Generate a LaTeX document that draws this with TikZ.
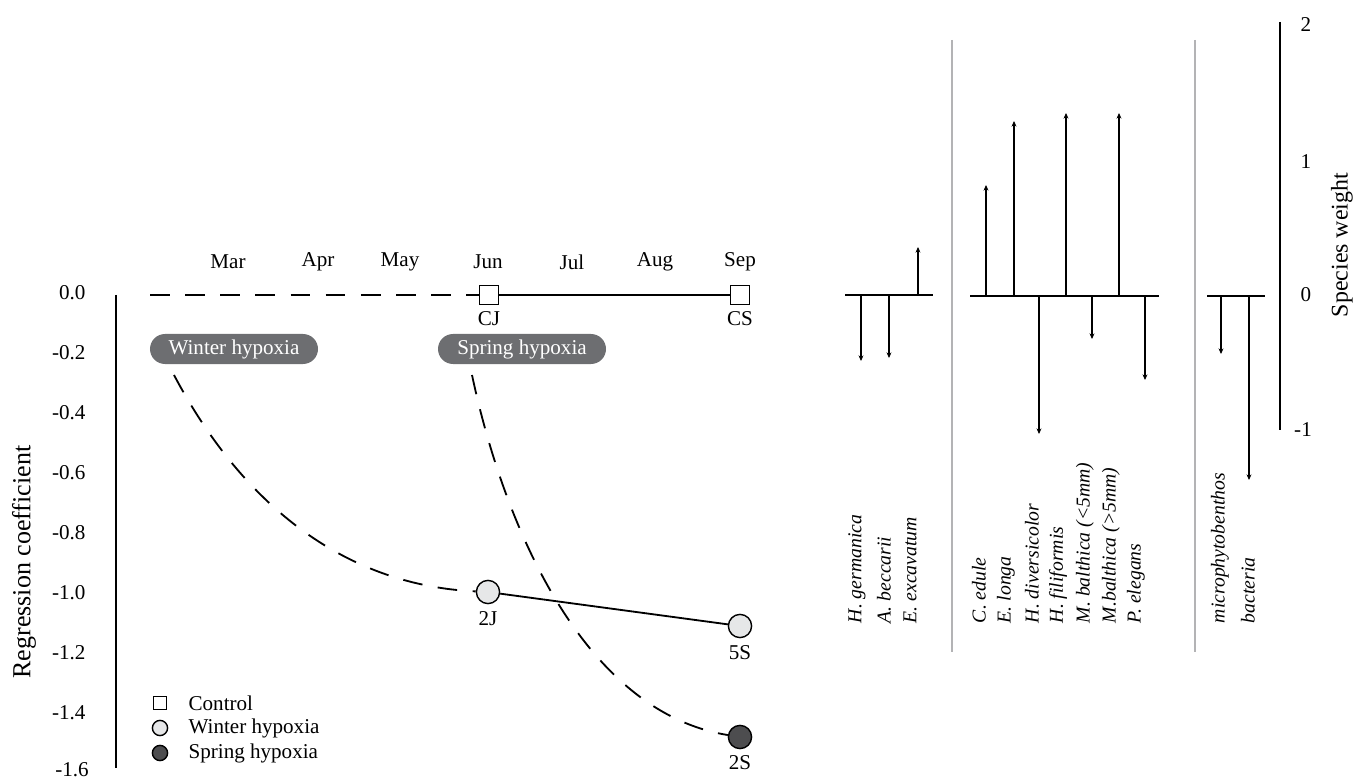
\documentclass[tikz,border=0pt]{standalone}
\usepackage{fontspec}
\setmainfont{Liberation Serif}
\usepackage{tikz}
\usetikzlibrary{arrows.meta}
\usetikzlibrary{shapes,positioning}
\definecolor{pillgray}{HTML}{6D6E71}
\definecolor{wintergray}{HTML}{E6E7E8}
\definecolor{springgray}{HTML}{4D4D4F}
\definecolor{sepgray}{HTML}{B3B3B5}

\tikzset{
  dashline/.style={dash pattern=on 14pt off 11pt},
  ctrlsq/.style={rectangle, draw=black, fill=white, line width=1pt, minimum size=4.75mm, inner sep=0pt},
  wcirc/.style={circle, draw=black, fill=wintergray, line width=1pt, minimum size=5.8mm, inner sep=0pt},
  scirc/.style={circle, draw=black, fill=springgray, line width=1pt, minimum size=5.8mm, inner sep=0pt},
  pill/.style={rounded rectangle, fill=pillgray, text=white, minimum width=42mm, minimum height=7.5mm, inner sep=0pt},
  spec/.style={rotate=90, anchor=west, inner sep=0pt, font=\fontsize{14}{16}\selectfont\itshape},
  bar/.style={-{Stealth[slant=0, length=4pt, width=3.5pt]}, line width=1.3pt},
  sepline/.style={draw=sepgray, line width=1.3pt}
}

\begin{document}
\begin{tikzpicture}[x=0.25mm, y=-0.25mm, line width=1.3pt, font=\fontsize{15}{17}\selectfont]
        \useasboundingbox (0,0) rectangle (1353,781);

        % Regression axis
        \coordinate (ax_top) at (116,295);
        \coordinate (ax_bot) at (116,768);
        \draw (ax_top) -- (ax_bot);
        \node[rotate=90, font=\fontsize{18.5}{20}\selectfont] (ax_title) at (24,562) {Regression coefficient};

        \node[anchor=east] (t0)  at (91,293) {0.0};
        \node[anchor=east] (t2)  at (91,353) {-0.2};
        \node[anchor=east] (t4)  at (91,413) {-0.4};
        \node[anchor=east] (t6)  at (91,473) {-0.6};
        \node[anchor=east] (t8)  at (91,533) {-0.8};
        \node[anchor=east] (t10) at (91,593) {-1.0};
        \node[anchor=east] (t12) at (91,653) {-1.2};
        \node[anchor=east] (t14) at (91,713) {-1.4};
        \node[anchor=east, inner sep=1pt] (t16) at (91,770) {-1.6};

        % Months
        \node (mar) at (228,262) {Mar};
        \node (apr) at (318,262) {Apr};
        \node (may) at (400,262) {May};
        \node (jun) at (488,262) {Jun};
        \node (jul) at (572,262) {Jul};
        \node (aug) at (655,262) {Aug};
        \node (sep) at (740,262) {Sep};

        % Control
        \coordinate (ctrl0) at (150,295);
        \node[ctrlsq] (CJ) at (489,295) {};
        \node[ctrlsq] (CS) at (740,295) {};
        \draw[dashline] (ctrl0) -- (CJ);
        \draw (CJ) -- (CS);
        \node (CJ_lab) at (489,319) {CJ};
        \node (CS_lab) at (740,319) {CS};

        % Hypoxia labels
        \node[pill] (winter) at (234,349) {Winter hypoxia};
        \node[pill] (spring) at (522,349) {Spring hypoxia};

        % Winter hypoxia
        \node[wcirc] (2J) at (488,592) {};
        \node[wcirc] (5S) at (740,626) {};
        \coordinate (w0) at (174,375);
        \draw[dashline] (w0) .. controls (240,500) and (340,585) .. (2J);
        \draw (2J) -- (5S);
        \node (2J_lab) at (488,619) {2J};
        \node (5S_lab) at (740,653) {5S};

        % Spring hypoxia
        \node[scirc] (2S) at (740,737) {};
        \coordinate (s0) at (472,375);
        \draw[dashline] (s0) .. controls (505,530) and (585,712) .. (2S);
        \node (2S_lab) at (740,763) {2S};

        % Legend
        \node[ctrlsq, minimum size=3.3mm] (lg_c) at (160,703) {};
        \node[wcirc, minimum size=3.8mm] (lg_w) at (160,728) {};
        \node[scirc, minimum size=3.8mm] (lg_s) at (160,753) {};
        \node[anchor=west] (lg_c_t) at (183,703) {Control};
        \node[anchor=west] (lg_w_t) at (183,728) {Winter hypoxia};
        \node[anchor=west] (lg_s_t) at (183,753) {Spring hypoxia};

        % Separators
        \coordinate (sep1a) at (952,40);
        \coordinate (sep1b) at (952,652);
        \coordinate (sep2a) at (1195,40);
        \coordinate (sep2b) at (1195,652);
        \draw[sepline] (sep1a) -- (sep1b);
        \draw[sepline] (sep2a) -- (sep2b);

        % Species weight axis
        \coordinate (sw_top) at (1280,22);
        \coordinate (sw_bot) at (1280,430);
        \draw (sw_top) -- (sw_bot);
        \node (sw2)  at (1306,25)  {2};
        \node (sw1)  at (1306,162) {1};
        \node (sw0)  at (1306,295) {0};
        \node (swm1) at (1303,430) {-1};
        \node[rotate=90, font=\fontsize{17}{19}\selectfont] (sw_title) at (1342,245) {Species weight};

        % Foraminifera
        \coordinate (g1a) at (845,295);
        \coordinate (g1b) at (933,295);
        \draw (g1a) -- (g1b);
        \coordinate (hg0) at (861,295);  \coordinate (hg1) at (861,361);
        \coordinate (ab0) at (889,295);  \coordinate (ab1) at (889,358);
        \coordinate (ee0) at (918,295);  \coordinate (ee1) at (918,247);
        \draw[bar] (hg0) -- (hg1);
        \draw[bar] (ab0) -- (ab1);
        \draw[bar] (ee0) -- (ee1);

        % Macrofauna
        \coordinate (g2a) at (970,296);
        \coordinate (g2b) at (1159,296);
        \draw (g2a) -- (g2b);
        \coordinate (ce0) at (986,296);   \coordinate (ce1) at (986,185);
        \coordinate (el0) at (1014,296);  \coordinate (el1) at (1014,121);
        \coordinate (hd0) at (1039,296);  \coordinate (hd1) at (1039,434);
        \coordinate (hf0) at (1066,296);  \coordinate (hf1) at (1066,113);
        \coordinate (ms0) at (1092,296);  \coordinate (ms1) at (1092,339);
        \coordinate (ml0) at (1119,296);  \coordinate (ml1) at (1119,113);
        \coordinate (pe0) at (1145,296);  \coordinate (pe1) at (1145,380);
        \draw[bar] (ce0) -- (ce1);
        \draw[bar] (el0) -- (el1);
        \draw[bar] (hd0) -- (hd1);
        \draw[bar] (hf0) -- (hf1);
        \draw[bar] (ms0) -- (ms1);
        \draw[bar] (ml0) -- (ml1);
        \draw[bar] (pe0) -- (pe1);

        % Microbes
        \coordinate (g3a) at (1207,296);
        \coordinate (g3b) at (1265,296);
        \draw (g3a) -- (g3b);
        \coordinate (mp0) at (1221,296);  \coordinate (mp1) at (1221,354);
        \coordinate (ba0) at (1249,296);  \coordinate (ba1) at (1249,480);
        \draw[bar] (mp0) -- (mp1);
        \draw[bar] (ba0) -- (ba1);

        % Species names
        \node[spec] (l_hg) at (857,624)  {H. germanica};
        \node[spec] (l_ab) at (884,624)  {A. beccarii};
        \node[spec] (l_ee) at (910,624)  {E. excavatum};
        \node[spec] (l_ce) at (979,624)  {C. edule};
        \node[spec] (l_el) at (1006,624) {E. longa};
        \node[spec] (l_hd) at (1032,624) {H. diversicolor};
        \node[spec] (l_hf) at (1058,624) {H. filiformis};
        \node[spec] (l_ms) at (1085,624) {M. balthica (<5mm)};
        \node[spec] (l_ml) at (1111,624) {M.balthica (>5mm)};
        \node[spec] (l_pe) at (1136,624) {P. elegans};
        \node[spec] (l_mp) at (1220,624) {microphytobenthos};
        \node[spec] (l_ba) at (1248,624) {bacteria};

    \end{tikzpicture}
\end{document}
